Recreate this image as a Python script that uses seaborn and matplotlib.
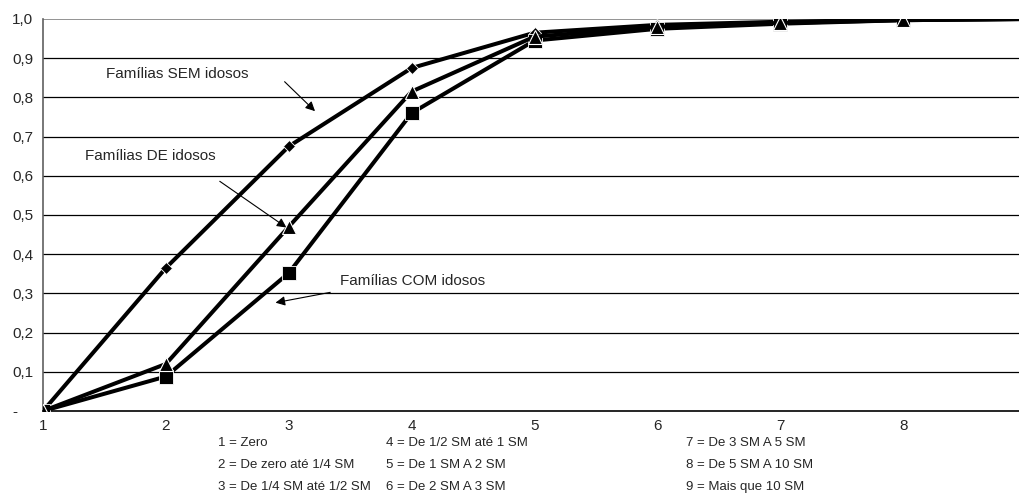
import pandas as pd
import matplotlib.pyplot as plt
import seaborn as sns

# faixas de renda (1..9) e proporcao acumulada por tipo de familia
faixas = [1, 2, 3, 4, 5, 6, 7, 8, 9]
sem_idosos = [0.0, 0.365, 0.675, 0.875, 0.965, 0.985, 0.993, 0.998, 1.0]
com_idosos = [0.0, 0.088, 0.352, 0.760, 0.945, 0.975, 0.988, 0.997, 1.0]
de_idosos = [0.0, 0.120, 0.470, 0.815, 0.955, 0.980, 0.990, 0.997, 1.0]

y_ticks = [0.0, 0.1, 0.2, 0.3, 0.4, 0.5, 0.6, 0.7, 0.8, 0.9, 1.0]
y_labels = ['-', '0,1', '0,2', '0,3', '0,4', '0,5', '0,6', '0,7', '0,8', '0,9', '1,0']
x_ticks = [1, 2, 3, 4, 5, 6, 7, 8]

legenda = [
    ['1 = Zero', '2 = De zero até 1/4 SM', '3 = De 1/4 SM até 1/2 SM'],
    ['4 = De 1/2 SM até 1 SM', '5 = De 1 SM A 2 SM', '6 = De 2 SM A 3 SM'],
    ['7 = De 3 SM A 5 SM', '8 = De 5 SM A 10 SM', '9 = Mais que 10 SM'],
]

df = pd.DataFrame({'faixa': faixas, 'sem': sem_idosos, 'com': com_idosos, 'de': de_idosos})

sns.set_style('white')
plt.rcParams['font.family'] = ['Liberation Sans', 'DejaVu Sans']

fig = plt.figure(figsize=(10.19, 5.04), dpi=100)
ax = fig.add_axes([43 / 1019, 1 - 411 / 504, 983 / 1019, 392 / 504])

for yv in y_ticks[1:-1]:
    ax.axhline(yv, color='black', lw=0.9, zorder=1)
ax.axhline(1.0, color='#808080', lw=1.2, zorder=1)

sns.lineplot(data=df, x='faixa', y='sem', ax=ax, color='black', lw=2.9, marker='D',
             markersize=6, markeredgecolor='white', markeredgewidth=0.6, zorder=3)
sns.lineplot(data=df, x='faixa', y='com', ax=ax, color='black', lw=2.9, marker='s',
             markersize=10, markeredgecolor='white', markeredgewidth=0.6, zorder=4)
sns.lineplot(data=df, x='faixa', y='de', ax=ax, color='black', lw=2.9, marker='^',
             markersize=10, markeredgecolor='white', markeredgewidth=0.8, zorder=5)

ax.set_xlim(1, 9)
ax.set_ylim(0, 1.0)
ax.set_xticks(x_ticks)
ax.set_yticks(y_ticks)
ax.set_yticklabels(y_labels)
ax.set_xlabel('')
ax.set_ylabel('')
ax.tick_params(axis='both', labelsize=11, length=3, color='black', direction='out')
ax.tick_params(axis='x', pad=3)
ax.tick_params(axis='y', pad=19.3)
for lab in ax.get_yticklabels():
    lab.set_horizontalalignment('left')
for side in ['top', 'right']:
    ax.spines[side].set_visible(False)
ax.spines['left'].set_color('#606060')
ax.spines['bottom'].set_color('black')
ax.spines['left'].set_linewidth(1.2)
ax.spines['bottom'].set_linewidth(1.2)

# anotacoes com setas
arrow = dict(arrowstyle='-|>', color='black', lw=0.8, mutation_scale=14)
ax.text(2.09, 0.86, 'Famílias SEM idosos', fontsize=11, ha='center', va='center')
ax.annotate('', xy=(3.23, 0.76), xytext=(2.95, 0.845), arrowprops=arrow)
ax.text(1.87, 0.65, 'Famílias DE idosos', fontsize=11, ha='center', va='center')
ax.annotate('', xy=(3.0, 0.464), xytext=(2.42, 0.59), arrowprops=arrow)
ax.text(4.01, 0.332, 'Famílias COM idosos', fontsize=11, ha='center', va='center')
ax.annotate('', xy=(2.87, 0.275), xytext=(3.36, 0.304), arrowprops=arrow)

# legenda das faixas abaixo do eixo
col_x = [218 / 1019, 386 / 1019, 686 / 1019]
row_y = [1 - 443 / 504, 1 - 465 / 504, 1 - 487 / 504]
for cx, col in zip(col_x, legenda):
    for ry, txt in zip(row_y, col):
        fig.text(cx, ry, txt, fontsize=9.5, ha='left', va='center')

plt.savefig('out.png', dpi=100)
